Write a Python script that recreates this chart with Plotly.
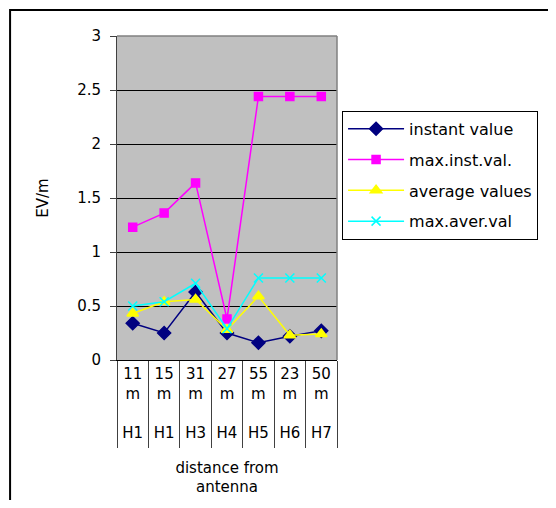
import plotly.graph_objects as go

distances = ["11<br>m", "15<br>m", "31<br>m", "27<br>m", "55<br>m", "23<br>m", "50<br>m"]
houses = ["H1", "H1", "H3", "H4", "H5", "H6", "H7"]
tick_labels = [f"{d}<br><br>{h}" for d, h in zip(distances, houses)]
categories = [f"c{i}" for i in range(len(distances))]

instant_value = [0.34, 0.25, 0.63, 0.25, 0.16, 0.22, 0.27]
max_inst_val = [1.23, 1.36, 1.64, 0.38, 2.44, 2.44, 2.44]
average_values = [0.43, 0.54, 0.56, 0.28, 0.59, 0.23, 0.24]
max_aver_val = [0.50, 0.54, 0.71, 0.29, 0.76, 0.76, 0.76]

y_ticks = [0, 0.5, 1, 1.5, 2, 2.5, 3]

FONT = "DejaVu Sans"
FS = 15
fig = go.Figure()

series = [
    ("instant value", instant_value, "#000080", "diamond", 10),
    ("max.inst.val.", max_inst_val, "#FF00FF", "square", 8),
    ("average values", average_values, "#FFFF00", "triangle-up", 10),
    ("max.aver.val", max_aver_val, "#00FFFF", "x-thin", 9),
]
for i, (name, vals, col, sym, sz) in enumerate(series):
    fig.add_trace(go.Scatter(
        x=categories, y=vals, name=name, mode="lines+markers",
        legendgroup=f"g{i}",
        line=dict(color=col, width=1.5),
        marker=dict(symbol=sym, size=sz, color=col,
                    line=dict(color=col, width=1.5)),
    ))

# invisible trace on secondary x axis to draw category boundary dividers
fig.add_trace(go.Scatter(x=categories, y=instant_value, xaxis="x2",
                         mode="markers", marker=dict(opacity=0),
                         showlegend=False, hoverinfo="skip"))

fig.update_layout(
    width=540, height=492,
    margin=dict(l=109, r=211, t=28, b=140, autoexpand=False),
    paper_bgcolor="white",
    plot_bgcolor="#C0C0C0",
    font=dict(family=FONT, size=FS, color="black"),
    showlegend=True,
    legend=dict(
        x=1.023, xanchor="left", y=0.769, yanchor="top",
        bordercolor="black", borderwidth=1, bgcolor="white",
        font=dict(family=FONT, size=16),
        tracegroupgap=7, itemwidth=56,
        entrywidth=250, entrywidthmode="pixels",
    ),
    xaxis=dict(
        type="category", automargin=False,
        tickmode="array", tickvals=categories, ticktext=tick_labels,
        showgrid=False, showline=True, linecolor="black", linewidth=1,
        ticks="", tickfont=dict(family=FONT, size=FS),
        title=dict(text="distance from<br>antenna", standoff=21,
                   font=dict(family=FONT, size=FS)),
        range=[-0.5, 6.5], fixedrange=True,
    ),
    xaxis2=dict(
        type="category", overlaying="x", side="bottom", anchor="y",
        automargin=False,
        tickmode="array", tickvals=categories,
        tickson="boundaries", ticks="outside", ticklen=87,
        tickcolor="#404040", tickwidth=1,
        showticklabels=False, showgrid=False, showline=False,
        range=[-0.5, 6.5], fixedrange=True,
    ),
    yaxis=dict(
        range=[0, 3], tickvals=y_ticks, automargin=False,
        ticktext=["0", "0.5", "1", "1.5", "2", "2.5", "3"],
        showgrid=True, gridcolor="black", gridwidth=1,
        showline=True, linecolor="#404040", linewidth=1,
        ticks="outside", ticklen=6, tickcolor="#404040",
        ticklabelstandoff=6,
        zeroline=False,
        tickfont=dict(family=FONT, size=FS),
        title=dict(text="EV/m", standoff=24, font=dict(family=FONT, size=FS)),
        fixedrange=True,
    ),
    shapes=[
        dict(type="line", xref="paper", yref="paper", x0=0, x1=1, y0=1, y1=1,
             line=dict(color="#808080", width=1.5)),
        dict(type="line", xref="paper", yref="paper", x0=1, x1=1, y0=0, y1=1,
             line=dict(color="#808080", width=1.5)),
        dict(type="rect", xref="paper", yref="paper",
             x0=-0.486, x1=2.1, y0=-0.6, y1=1.080,
             line=dict(color="black", width=2)),
    ],
)

fig.write_html("out.html")
